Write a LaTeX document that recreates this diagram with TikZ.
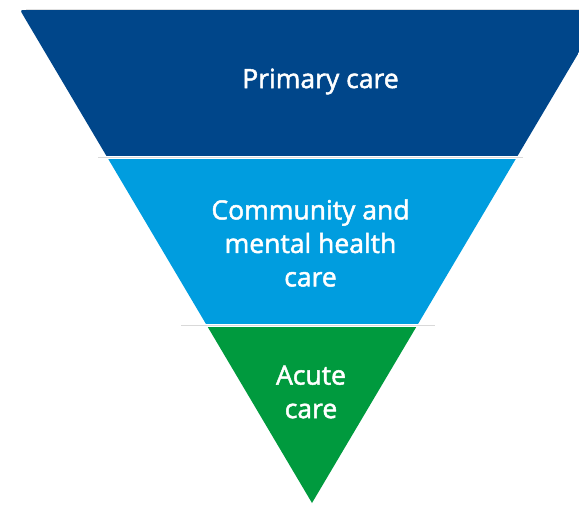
\documentclass[tikz,border=0pt]{standalone}
\usepackage{fontspec}
\setmainfont{Open Sans}
\newfontfamily\labelfont{Open Sans}[FakeBold=1.8]
\definecolor{primblue}{HTML}{00468A}
\definecolor{commblue}{HTML}{009DDF}
\definecolor{acutegreen}{HTML}{009A3E}
\begin{document}
\begin{tikzpicture}[x=1pt,y=-1pt]
\useasboundingbox (0,0) rectangle (579,504);
\begin{scope}
\clip (23.06,15.16) .. controls (20,10) .. (26,10) -- (604,10) -- (312,503) -- cycle;
\fill[primblue] (0,0) rectangle (620,155.5);
\fill[commblue] (0,159) rectangle (620,323.5);
\fill[acutegreen] (0,327) rectangle (620,510);
\end{scope}
% thin separators
\draw[black!12, line width=0.8pt] (26,9.3) -- (579,9.3);
\draw[black!15, line width=0.8pt] (98,157.4) -- (523,157.4);
\draw[black!15, line width=0.8pt] (181,325.2) -- (435,325.2);
\node[text=white, font=\labelfont\fontsize{26.5}{33.5}\selectfont, align=center] (prim) at (320.5,81.5) {Primary care};
\node[text=white, font=\labelfont\fontsize{26.5}{33.5}\selectfont, align=center] (comm) at (310.5,243) {Community and\\mental health\\care};
\node[text=white, font=\labelfont\fontsize{26.5}{33.5}\selectfont, align=center] (acute) at (311,392) {Acute\\care};
\end{tikzpicture}
\end{document}
